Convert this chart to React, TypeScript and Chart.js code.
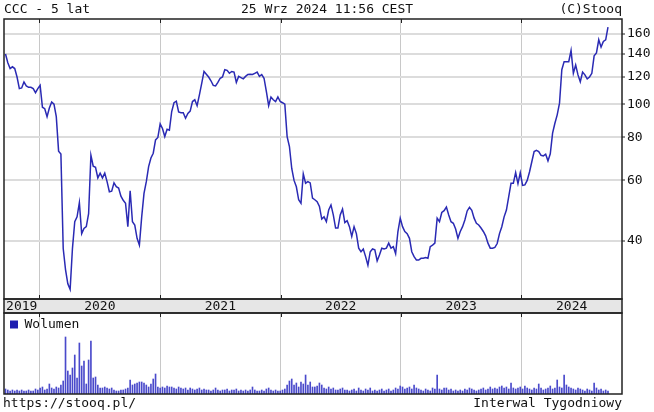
import React, { useEffect, useRef } from 'react';
import { Chart, registerables } from 'chart.js';
Chart.register(...registerables);

// ---- data ----
const START_DATE = '2019-09-20'; // first weekly bar
const YEARS = ['2019', '2020', '2021', '2022', '2023', '2024'];
const PRICE_TICKS = [40, 60, 80, 100, 120, 140, 160];

// weekly close, PLN
const PRICE = [
  140, 132, 127, 128.5, 127, 120, 111, 111.5, 116, 113,
  112, 112, 111, 108, 111, 113.5, 98, 97, 92, 97.5,
  101.5, 100, 92, 73, 71.6, 38, 33, 30, 28.9, 38,
  45.5, 47, 51.7, 42, 43.5, 44, 48, 71, 66, 65.5,
  61, 63, 61, 63, 59.5, 55.6, 55.8, 59, 57.5, 57,
  54, 52.5, 51.5, 44, 56, 45.5, 44.5, 40.7, 38.9, 47,
  55, 59.5, 65.8, 69.7, 72, 78.7, 80, 87.6, 85, 80.5,
  84.5, 84, 95.2, 101, 102, 95, 94.5, 94.5, 91, 94,
  95.5, 101.8, 103, 99, 106.5, 115, 124.6, 122.3, 120, 117,
  113.4, 113, 115.7, 119, 120, 126, 125.5, 123, 124.5, 124,
  115.7, 120.5, 119.5, 118.5, 120.5, 122, 122.3, 122, 123, 124,
  120.5, 122, 119, 108.9, 99, 104.9, 103, 101.8, 105, 101.8,
  101, 100, 80.5, 75.3, 65, 60, 57.5, 52.7, 51.5, 62.7,
  58.9, 59.5, 59, 53.3, 52.7, 52, 50.4, 46.3, 47, 45.5,
  49.2, 50.9, 47.6, 43.6, 43.6, 47.6, 49.5, 45.2, 45.8, 44,
  41.2, 44, 42, 38.1, 37.2, 37.9, 36, 34, 37.2, 37.9,
  37.7, 35, 36.4, 38.1, 37.9, 38.1, 39.4, 38.1, 38.5, 36.7,
  42.6, 46.6, 44, 42.6, 42, 40.7, 37.2, 36, 35.2, 35.2,
  35.6, 35.6, 35.8, 35.6, 38.5, 38.9, 39.4, 46.6, 45.5, 48.4,
  49, 50.2, 47.6, 45.5, 45, 43.3, 40.7, 42.6, 44, 46,
  48.9, 50.1, 49.1, 46.6, 45, 44.5, 43.6, 42.6, 41.4, 39.4,
  38.1, 38.1, 38.3, 39.3, 42, 44, 47, 49.2, 53.8, 58.9,
  58.9, 63.2, 58.7, 63.2, 58, 58.2, 60, 63.5, 68, 72.8,
  73.4, 72.8, 71, 70.7, 71.5, 68.4, 71.7, 82.4, 88, 93.1,
  100.7, 126, 133, 133, 133, 143.3, 123, 130, 121.7, 116.2,
  124, 121.7, 118.5, 120, 123, 138.3, 141, 154, 146.6, 152.3,
  154, 167.7,
];

// weekly volume (x10k shares)
const VOLUME = [
  5, 4, 3, 4, 3, 4, 3, 4, 3, 3,
  4, 3, 3, 5, 4, 6, 7, 4, 5, 10,
  6, 5, 7, 6, 9, 13, 57, 23, 19, 26,
  39, 16, 51, 28, 33, 10, 34, 53, 16, 17,
  9, 6, 6, 7, 6, 5, 6, 4, 3, 3,
  4, 4, 5, 6, 14, 9, 10, 11, 12, 12,
  11, 9, 7, 10, 15, 20, 7, 6, 7, 6,
  8, 7, 7, 6, 5, 7, 6, 5, 6, 4,
  6, 5, 4, 5, 6, 4, 5, 4, 4, 3,
  4, 6, 4, 3, 4, 4, 5, 3, 4, 4,
  5, 3, 4, 3, 4, 3, 4, 7, 4, 3,
  3, 4, 3, 5, 6, 4, 3, 4, 3, 3,
  4, 5, 9, 13, 15, 9, 11, 7, 12, 10,
  19, 9, 12, 7, 7, 8, 11, 9, 6, 5,
  7, 5, 6, 4, 4, 5, 6, 4, 4, 3,
  4, 5, 3, 6, 4, 3, 5, 4, 6, 3,
  4, 3, 4, 5, 3, 4, 5, 3, 4, 6,
  5, 8, 7, 5, 6, 7, 5, 9, 6, 5,
  4, 3, 5, 4, 3, 6, 5, 19, 5, 4,
  6, 6, 4, 5, 3, 4, 3, 4, 3, 5,
  4, 6, 5, 4, 3, 4, 5, 6, 4, 5,
  7, 5, 6, 5, 7, 8, 6, 7, 5, 11,
  6, 5, 6, 7, 5, 8, 6, 5, 4, 6,
  5, 10, 6, 4, 5, 6, 8, 5, 6, 14,
  7, 6, 19, 9, 7, 6, 5, 4, 6, 5,
  4, 3, 5, 4, 3, 11, 6, 4, 5, 3,
  4, 3,
];

// ---- helpers / styling ----
const FONT = "'DejaVu Sans Mono', monospace";
const TEXT = '#111111';
const LINE_COLOR = '#2a2ab4';
const BAR_COLOR = '#4a4acb';
const GRID_H = '#dcdcdc';
const GRID_V = '#c8c8c8';
const FRAME = '#222222';

const X_MIN = -0.65;
const X_MAX = 267.07;
const PRICE_MIN = 27.1;
const PRICE_MAX = 177;
const VOL_MAX = 81;

const weekIndexOf = (d: string) =>
  (Date.parse(d) - Date.parse(START_DATE)) / (7 * 86400000);
const BOUNDS = YEARS.slice(1).map((y) => weekIndexOf(`${y}-01-01`));
const EDGES = [X_MIN, ...BOUNDS, X_MAX];
const MIDS = YEARS.map((_, k) => (EDGES[k] + EDGES[k + 1]) / 2);
const near = (a: number, b: number) => Math.abs(a - b) < 1e-6;
const isBound = (v: number) => BOUNDS.some((b) => near(b, v));
const yearLabel = (v: number) => {
  const k = MIDS.findIndex((m) => near(m, v));
  return k >= 0 ? YEARS[k] : '';
};

const framePlugin = {
  id: 'frame',
  beforeDraw(chart: any, _a: any, opts: any) {
    if (!opts.band) return;
    const { ctx, chartArea } = chart;
    ctx.save();
    ctx.fillStyle = '#e6e6e6';
    ctx.fillRect(chartArea.left, chartArea.bottom, chartArea.right - chartArea.left, opts.band);
    ctx.restore();
  },
  afterDraw(chart: any, _a: any, opts: any) {
    const { ctx, chartArea, scales } = chart;
    const { left, right, top, bottom } = chartArea;
    ctx.save();
    ctx.strokeStyle = FRAME;
    ctx.lineWidth = 1.5;
    ctx.strokeRect(left, top, right - left, bottom - top);
    if (opts.band) ctx.strokeRect(left, bottom, right - left, opts.band);
    ctx.lineWidth = 1;
    ctx.beginPath();
    for (const b of BOUNDS) {
      const px = Math.round(scales.x.getPixelForValue(b)) + 0.5;
      ctx.moveTo(px, top);
      ctx.lineTo(px, top + 4);
      if (opts.band) {
        ctx.moveTo(px, bottom - 4);
        ctx.lineTo(px, bottom);
      }
    }
    ctx.stroke();
    ctx.restore();
  },
};

export default function App() {
  const priceRef = useRef<HTMLCanvasElement>(null);
  const volRef = useRef<HTMLCanvasElement>(null);

  useEffect(() => {
    const font = { family: FONT, size: 13 };
    const priceChart = new Chart(priceRef.current as HTMLCanvasElement, {
      type: 'line',
      data: {
        datasets: [
          {
            label: 'CCC',
            data: PRICE.map((v, i) => ({ x: i, y: v })),
            borderColor: LINE_COLOR,
            borderWidth: 1.5,
            pointRadius: 0,
            tension: 0,
            fill: false,
          },
        ],
      },
      options: {
        animation: false,
        responsive: false,
        maintainAspectRatio: false,
        layout: { padding: { top: 19, left: 4, right: 0, bottom: 2 } },
        plugins: {
          legend: { display: false },
          tooltip: { enabled: false },
          frame: { band: 14 },
        } as any,
        scales: {
          x: {
            type: 'linear',
            min: X_MIN,
            max: X_MAX,
            offset: false,
            afterBuildTicks: (s: any) => {
              s.ticks = [...BOUNDS, ...MIDS].sort((a, b) => a - b).map((value) => ({ value }));
            },
            afterFit: (s: any) => {
              s.height = 14;
            },
            grid: {
              color: (ctx: any) => (ctx.tick && isBound(ctx.tick.value) ? GRID_V : 'rgba(0,0,0,0)'),
              lineWidth: 1,
              drawTicks: false,
              offset: false,
            },
            border: { display: false },
            ticks: {
              autoSkip: false,
              maxRotation: 0,
              minRotation: 0,
              padding: 0,
              font,
              color: TEXT,
              callback: (v: any) => yearLabel(Number(v)),
            },
          },
          y: {
            type: 'logarithmic',
            position: 'right',
            min: PRICE_MIN,
            max: PRICE_MAX,
            afterBuildTicks: (s: any) => {
              s.ticks = PRICE_TICKS.map((value) => ({ value }));
            },
            afterFit: (s: any) => {
              s.width = 32;
            },
            grid: { color: GRID_H, lineWidth: 2, tickLength: 3, tickColor: FRAME, tickWidth: 1 } as any,
            border: { display: false },
            ticks: { padding: 2, font, color: TEXT, callback: (v: any) => String(v) },
          },
        },
      } as any,
      plugins: [framePlugin],
    });

    const volChart = new Chart(volRef.current as HTMLCanvasElement, {
      type: 'bar',
      data: {
        datasets: [
          {
            label: 'Wolumen',
            data: VOLUME.map((v, i) => ({ x: i, y: v })),
            backgroundColor: BAR_COLOR,
            borderWidth: 0,
            barThickness: 1,
          },
        ],
      },
      options: {
        animation: false,
        responsive: false,
        maintainAspectRatio: false,
        layout: { padding: { top: 1, left: 4, right: 32, bottom: 2 } },
        plugins: {
          legend: {
            position: 'chartArea',
            align: 'start',
            labels: {
              boxWidth: 8,
              boxHeight: 8,
              padding: 6,
              font,
              color: TEXT,
              generateLabels: (c: any) => [
                {
                  text: c.data.datasets[0].label,
                  fillStyle: '#1e1eb0',
                  strokeStyle: '#1e1eb0',
                  lineWidth: 0,
                  hidden: false,
                  datasetIndex: 0,
                  fontColor: TEXT,
                },
              ],
            },
          },
          tooltip: { enabled: false },
          frame: { band: 0 },
        } as any,
        scales: {
          x: {
            type: 'linear',
            min: X_MIN,
            max: X_MAX,
            offset: false,
            afterBuildTicks: (s: any) => {
              s.ticks = BOUNDS.map((value) => ({ value }));
            },
            afterFit: (s: any) => {
              s.height = 0;
            },
            grid: { color: GRID_V, lineWidth: 1, drawTicks: false, offset: false },
            border: { display: false },
            ticks: { display: false },
          },
          y: { display: false, min: 0, max: VOL_MAX },
        },
      } as any,
      plugins: [framePlugin],
    });

    return () => {
      priceChart.destroy();
      volChart.destroy();
    };
  }, []);

  const txt: React.CSSProperties = {
    position: 'absolute',
    lineHeight: '16px',
    whiteSpace: 'pre',
    fontFamily: FONT,
    fontSize: 13,
    color: TEXT,
  };

  return (
    <div
      style={{
        position: 'fixed',
        left: 0,
        top: 0,
        width: 654,
        height: 412,
        background: '#ffffff',
        overflow: 'hidden',
      }}
    >
      <canvas
        ref={priceRef}
        width={654}
        height={315}
        style={{ position: 'absolute', left: 0, top: 0, width: 654, height: 315 }}
      />
      <canvas
        ref={volRef}
        width={654}
        height={84}
        style={{ position: 'absolute', left: 0, top: 312, width: 654, height: 84 }}
      />
      <div style={{ ...txt, left: 4, top: 1 }}>CCC - 5 lat</div>
      <div style={{ ...txt, left: 0, width: 654, top: 1, textAlign: 'center' }}>25 Wrz 2024 11:56 CEST</div>
      <div style={{ ...txt, right: 32, top: 1 }}>(C)Stooq</div>
      <div style={{ ...txt, left: 3, top: 395 }}>https://stooq.pl/</div>
      <div style={{ ...txt, right: 32, top: 395 }}>Interwal Tygodniowy</div>
    </div>
  );
}
